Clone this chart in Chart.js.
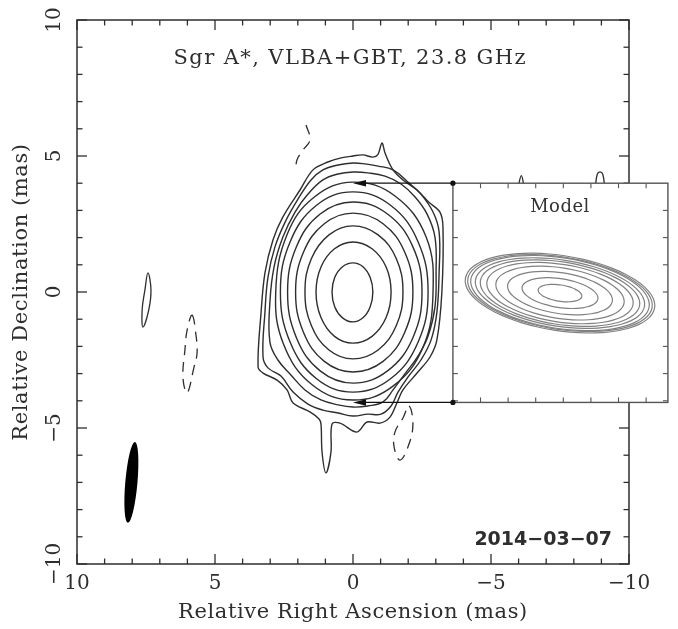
<!DOCTYPE html>
<html>
<head>
<meta charset="utf-8">
<script src="https://cdn.jsdelivr.net/npm/chart.js@4.4.1/dist/chart.umd.min.js"></script>
<style>
  html, body { margin: 0; padding: 0; background: #fff; }
  #wrap { width: 678px; height: 629px; }
</style>
</head>
<body>
<div id="wrap"><canvas id="map" width="678" height="629"></canvas></div>
<script>
/* ---------- axis ticks (mas) ---------- */
const majorTicks = [-10, -5, 0, 5, 10];

/* ---------- positive contours, [RA offset, Dec offset] in mas ---------- */
const cont1 = [[0,1.07],[0.38,0.93],[0.66,0.54],[0.76,0],[0.66,-0.55],[0.38,-0.95],[0,-1.10],[-0.36,-0.95],[-0.62,-0.55],[-0.72,0],[-0.62,0.54],[-0.36,0.93]];
const cont2 = [[0,1.84],[0.67,1.59],[1.16,0.92],[1.34,0],[1.16,-0.94],[0.67,-1.63],[0,-1.88],[-0.69,-1.63],[-1.20,-0.94],[-1.38,0],[-1.20,0.92],[-0.69,1.59]];
const cont3 = [[0,2.43],[0.87,2.10],[1.51,1.22],[1.74,0],[1.51,-1.23],[0.87,-2.13],[0,-2.46],[-0.91,-2.13],[-1.57,-1.23],[-1.81,0],[-1.57,1.22],[-0.91,2.10]];
const cont4 = [[0,2.90],[1.04,2.51],[1.80,1.45],[2.08,0],[1.80,-1.47],[1.04,-2.55],[0,-2.94],[-1.09,-2.55],[-1.88,-1.47],[-2.17,0],[-1.88,1.45],[-1.09,2.51]];
const cont5 = [[0,3.31],[1.19,2.87],[2.05,1.66],[2.37,0],[2.05,-1.68],[1.19,-2.90],[0,-3.35],[-1.25,-2.90],[-2.17,-1.68],[-2.50,0],[-2.17,1.66],[-1.25,2.87]];
const cont6 = [[0,3.68],[1.32,3.19],[2.28,1.84],[2.63,0],[2.28,-1.84],[1.32,-3.19],[0,-3.68],[-1.36,-3.19],[-2.36,-1.84],[-2.72,0],[-2.36,1.84],[-1.36,3.19]];
const cont7 = [[0,4.04],[1.40,3.49],[2.38,2.13],[2.80,0],[2.52,-1.91],[1.47,-3.42],[0,-3.97],[-1.45,-3.46],[-2.54,-2.02],[-2.90,0],[-2.65,2.02],[-1.52,3.53]];
const cont8 = [[0,4.41],[0.54,4.34],[1.09,4.12],[1.63,3.60],[2.10,2.94],[2.54,2.02],[2.86,0.92],[3.01,-0.37],[3.01,-1.84],[2.72,-2.50],[2.25,-3.05],[1.74,-3.60],[1.16,-3.97],[0.54,-4.15],[0,-4.23],[-0.54,-4.19],[-1.09,-4.04],[-1.45,-3.60],[-1.88,-3.01],[-2.36,-2.35],[-2.72,-1.62],[-2.97,-0.55],[-3.01,0.74],[-2.97,2.02],[-2.68,2.87],[-2.25,3.49],[-1.74,3.97],[-1.16,4.26],[-0.54,4.38]];
const cont9 = [[0,4.74],[0.54,4.67],[1.09,4.49],[1.52,4.12],[1.99,3.42],[2.46,2.57],[2.83,1.65],[3.08,0.55],[3.19,-0.74],[3.26,-2.39],[3.08,-2.79],[2.61,-3.09],[2.17,-3.68],[1.63,-4.12],[1.09,-4.34],[0.54,-4.45],[0,-4.56],[-0.54,-4.49],[-1.01,-4.49],[-1.38,-4.19],[-1.63,-3.68],[-1.99,-3.13],[-2.46,-2.50],[-2.83,-1.76],[-3.04,-0.74],[-3.12,0.74],[-3.12,2.21],[-2.90,2.94],[-2.46,3.60],[-1.99,4.04],[-1.45,4.49],[-0.91,4.63],[-0.43,4.71]];
const cont10 = [[0,5.00],[0.43,4.93],[0.91,4.78],[1.45,4.49],[1.92,3.75],[2.54,2.76],[2.90,1.91],[3.19,0.70],[3.33,-0.74],[3.44,-2.76],[3.26,-2.98],[2.75,-3.24],[2.39,-3.60],[2.17,-4.08],[1.56,-4.41],[1.23,-4.67],[1.16,-4.85],[1.12,-5.90],[0.98,-6.65],[0.80,-5.90],[0.76,-4.85],[0.47,-4.82],[-0.14,-5.15],[-0.51,-4.78],[-0.98,-4.82],[-1.34,-4.60],[-1.59,-4.08],[-1.81,-3.60],[-2.32,-2.98],[-2.79,-2.39],[-3.04,-1.76],[-3.22,0],[-3.26,2.39],[-3.15,2.94],[-2.75,3.30],[-2.32,3.75],[-1.81,4.12],[-1.45,4.49],[-1.16,5.11],[-1.05,5.48],[-0.90,5.05],[-0.72,4.96],[-0.36,5.04]];
const posContours = [cont1, cont2, cont3, cont4, cont5, cont6, cont7, cont8, cont9, cont10];

// small positive islands (the two tips poke out above the inset)
const islandEast = [[7.43,0.70],[7.32,0.07],[7.40,-0.66],[7.61,-1.29],[7.64,-0.66],[7.54,0.07]];
const tipA = [[-5.98,3.85],[-6.10,4.28],[-6.20,3.85]];
const tipB = [[-8.78,3.85],[-8.85,4.33],[-8.95,4.42],[-9.05,4.33],[-9.12,3.85]];

/* ---------- negative contours (dashed) ---------- */
const negNorth = [[1.70,6.14],[1.56,5.59],[1.81,5.22],[2.03,4.85],[2.07,4.49]];
const negSouth = [[-2.03,-4.19],[-2.17,-4.89],[-1.99,-5.70],[-1.70,-6.18],[-1.49,-5.70],[-1.52,-5.15],[-1.81,-4.63]];
const negEast = [[5.83,-0.85],[5.69,-1.58],[5.65,-2.24],[5.76,-2.76],[6.01,-3.71],[6.16,-3.16],[6.09,-2.13],[6.01,-1.40]];

/* ---------- model: elliptical gaussian contours ---------- */
const modelMajor = [0.80, 1.39, 1.92, 2.35, 2.68, 2.92, 3.10, 3.27, 3.38, 3.47];
const modelMinor = [0.30, 0.53, 0.75, 0.93, 1.06, 1.15, 1.22, 1.30, 1.33, 1.38];
const modelPA = 81;
const modelCentre = [-7.5, -0.04];

/* ---------- restoring beam ---------- */
const beamCentre = [8.03, -7.0];
const beamMajor = 1.49;
const beamMinor = 0.22;
const beamPA = -5;

/* ---------- inset frame, in main-map mas ---------- */
const insetRa = [-3.62, -11.41];
const insetDec = [-4.06, 4.0];
const arrowTipRa = 0;

const SERIF = '"DejaVu Serif", "Liberation Serif", serif';
const INK = '#2e2e2e';

const toXY = pts => pts.map(([ra, dec]) => ({ x: ra, y: dec }));
const fmt = v => (v < 0 ? '\u2212' + (-v) : String(v));

function ellipsePts(c, a, b, pa, n) {
    const p = pa * Math.PI / 180, out = [];
    for (let i = 0; i < n; i++) {
        const t = 2 * Math.PI * i / n;
        const u = a * Math.cos(t), v = b * Math.sin(t);
        out.push({ x: c[0] + u * Math.sin(p) + v * Math.cos(p), y: c[1] + u * Math.cos(p) - v * Math.sin(p) });
    }
    return out;
}

/* ---------- datasets ---------- */
const datasets = [];
modelMajor.forEach((a, i) => datasets.push({
    group: 'model', closed: true, order: 0, clip: false,
    data: ellipsePts(modelCentre, a, modelMinor[i], modelPA, 36),
    borderColor: '#808080', borderWidth: 1.2
}));
posContours.forEach(c => datasets.push({
    group: 'map', closed: true, order: 1,
    data: toXY(c), borderColor: INK, borderWidth: 1.4,
    tension: c === cont10 ? 0.35 : 0.4
}));
datasets.push({ group: 'map', closed: true, order: 1, data: toXY(islandEast), borderColor: INK, borderWidth: 1.3 });
[tipA, tipB].forEach(c => datasets.push({ group: 'map', order: 1, data: toXY(c), borderColor: INK, borderWidth: 1.3 }));
datasets.push({ group: 'map', order: 1, data: toXY(negNorth), borderColor: INK, borderWidth: 1.3, borderDash: [10, 7] });
[negSouth, negEast].forEach(c => datasets.push({
    group: 'map', closed: true, order: 1, data: toXY(c), borderColor: INK, borderWidth: 1.3, borderDash: [10, 7]
}));

/* ---------- plugins ---------- */
// contours are closed curves: let the line element wrap around like a radar line
const closedLines = {
    id: 'closedLines',
    afterDatasetUpdate(chart, args) {
        const ds = chart.data.datasets[args.index];
        if (ds.closed && args.meta.dataset) {
            args.meta.dataset._loop = true;
            args.meta.dataset._fullLoop = true;
        }
    }
};

function line(ctx, x1, y1, x2, y2) {
    ctx.beginPath(); ctx.moveTo(x1, y1); ctx.lineTo(x2, y2); ctx.stroke();
}

const frame = {
    id: 'frame',
    beforeDraw(chart) {
        chart.ctx.letterSpacing = '0.6px';
    },
    beforeDatasetsDraw(chart) {
        const { ctx, chartArea: a, scales: { x, y } } = chart;
        this._insetDone = false;
        ctx.save();
        ctx.strokeStyle = INK;
        ctx.lineWidth = 1.5;
        ctx.strokeRect(a.left, a.top, a.right - a.left, a.bottom - a.top);
        ctx.lineWidth = 1.3;
        x.ticks.forEach(t => {
            const px = x.getPixelForValue(t.value), len = t.value % 5 === 0 ? 10 : 5.5;
            line(ctx, px, a.bottom, px, a.bottom - len);
            line(ctx, px, a.top, px, a.top + len);
        });
        y.ticks.forEach(t => {
            const py = y.getPixelForValue(t.value), len = t.value % 5 === 0 ? 10 : 5.5;
            line(ctx, a.left, py, a.left + len, py);
            line(ctx, a.right, py, a.right - len, py);
        });
        ctx.restore();
    },
    beforeDatasetDraw(chart, args) {
        if (this._insetDone || chart.data.datasets[args.index].group !== 'model') return;
        this._insetDone = true;
        const { ctx, scales: { x, y } } = chart;
        const l = x.getPixelForValue(insetRa[0]), r = x.getPixelForValue(insetRa[1]);
        const t = y.getPixelForValue(insetDec[1]), b = y.getPixelForValue(insetDec[0]);
        const tip = x.getPixelForValue(arrowTipRa);
        ctx.save();
        ctx.fillStyle = '#fff';
        ctx.fillRect(l, t, r - l, b - t);
        ctx.strokeStyle = '#555';
        ctx.lineWidth = 1.4;
        ctx.strokeRect(l, t, r - l, b - t);
        ctx.lineWidth = 1.1;
        for (let k = 1; insetRa[0] - k > insetRa[1]; k++) {
            const px = x.getPixelForValue(insetRa[0] - k);
            line(ctx, px, t, px, t + 5);
            line(ctx, px, b, px, b - 5);
        }
        for (let d = Math.ceil(insetDec[0]); d < insetDec[1]; d++) {
            const py = y.getPixelForValue(d);
            line(ctx, l, py, l + 5, py);
            line(ctx, r, py, r - 5, py);
        }
        // leader arrows from the inset corners
        ctx.strokeStyle = '#111';
        ctx.fillStyle = '#111';
        ctx.lineWidth = 1.3;
        [t, b].forEach(py => {
            line(ctx, l, py, tip + 8, py);
            ctx.beginPath();
            ctx.moveTo(tip, py); ctx.lineTo(tip + 13, py - 3.2); ctx.lineTo(tip + 13, py + 3.2);
            ctx.closePath(); ctx.fill();
            ctx.beginPath(); ctx.arc(l, py, 2.6, 0, 2 * Math.PI); ctx.fill();
        });
        ctx.fillStyle = '#333';
        ctx.font = '18px ' + SERIF;
        ctx.letterSpacing = '0.5px';
        ctx.textAlign = 'center';
        ctx.textBaseline = 'alphabetic';
        ctx.fillText('Model', x.getPixelForValue(modelCentre[0]), t + 29);
        ctx.restore();
    },
    afterDatasetsDraw(chart) {
        const { ctx, chartArea: a, scales: { x, y } } = chart;
        ctx.save();
        // beam
        const sx = Math.abs(x.getPixelForValue(1) - x.getPixelForValue(0));
        const sy = Math.abs(y.getPixelForValue(1) - y.getPixelForValue(0));
        ctx.fillStyle = '#000';
        ctx.beginPath();
        ctx.ellipse(x.getPixelForValue(beamCentre[0]), y.getPixelForValue(beamCentre[1]),
            beamMinor * sx, beamMajor * sy, -beamPA * Math.PI / 180, 0, 2 * Math.PI);
        ctx.fill();

        // tick labels
        ctx.fillStyle = INK;
        ctx.font = '20px ' + SERIF;
        ctx.letterSpacing = '0px';
        ctx.textAlign = 'center';
        ctx.textBaseline = 'middle';
        majorTicks.forEach(v => ctx.fillText(fmt(v), x.getPixelForValue(v), a.bottom + 20));
        majorTicks.forEach(v => {
            ctx.save();
            ctx.translate(a.left - 22, y.getPixelForValue(v));
            ctx.rotate(-Math.PI / 2);
            ctx.fillText(fmt(v), 0, 0);
            ctx.restore();
        });

        // map title and epoch
        ctx.textBaseline = 'alphabetic';
        ctx.font = '21px ' + SERIF;
        ctx.letterSpacing = '1.4px';
        ctx.fillText('Sgr A*, VLBA+GBT, 23.8 GHz', x.getPixelForValue(0.1), a.top + 44);
        ctx.textAlign = 'right';
        ctx.font = 'bold 19px "DejaVu Sans", sans-serif';
        ctx.letterSpacing = '0px';
        ctx.fillText('2014\u221203\u221207', a.right - 17, a.bottom - 19);
        ctx.restore();
    }
};

new Chart(document.getElementById('map'), {
    type: 'line',
    data: { datasets },
    options: {
        responsive: false,
        animation: false,
        events: [],
        layout: { padding: { top: 20, right: 49, bottom: 0, left: 0 } },
        elements: {
            point: { radius: 0 },
            line: { tension: 0.4, capBezierPoints: false, fill: false }
        },
        plugins: { legend: { display: false }, tooltip: { enabled: false } },
        scales: {
            x: {
                type: 'linear', min: -10, max: 10, reverse: true,
                ticks: { display: false, stepSize: 1 },
                grid: { display: false }, border: { display: false },
                title: {
                    display: true, text: 'Relative Right Ascension (mas)', color: INK,
                    font: { family: SERIF, size: 21 }, padding: { top: 0, bottom: 4 }
                },
                afterFit: s => { s.height = 65; }
            },
            y: {
                type: 'linear', min: -10, max: 10,
                ticks: { display: false, stepSize: 1 },
                grid: { display: false }, border: { display: false },
                title: {
                    display: true, text: 'Relative Declination (mas)', color: INK,
                    font: { family: SERIF, size: 21 }, padding: { top: 9, bottom: 0 }
                },
                afterFit: s => { s.width = 77; }
            }
        }
    },
    plugins: [closedLines, frame]
});
</script>
</body>
</html>
